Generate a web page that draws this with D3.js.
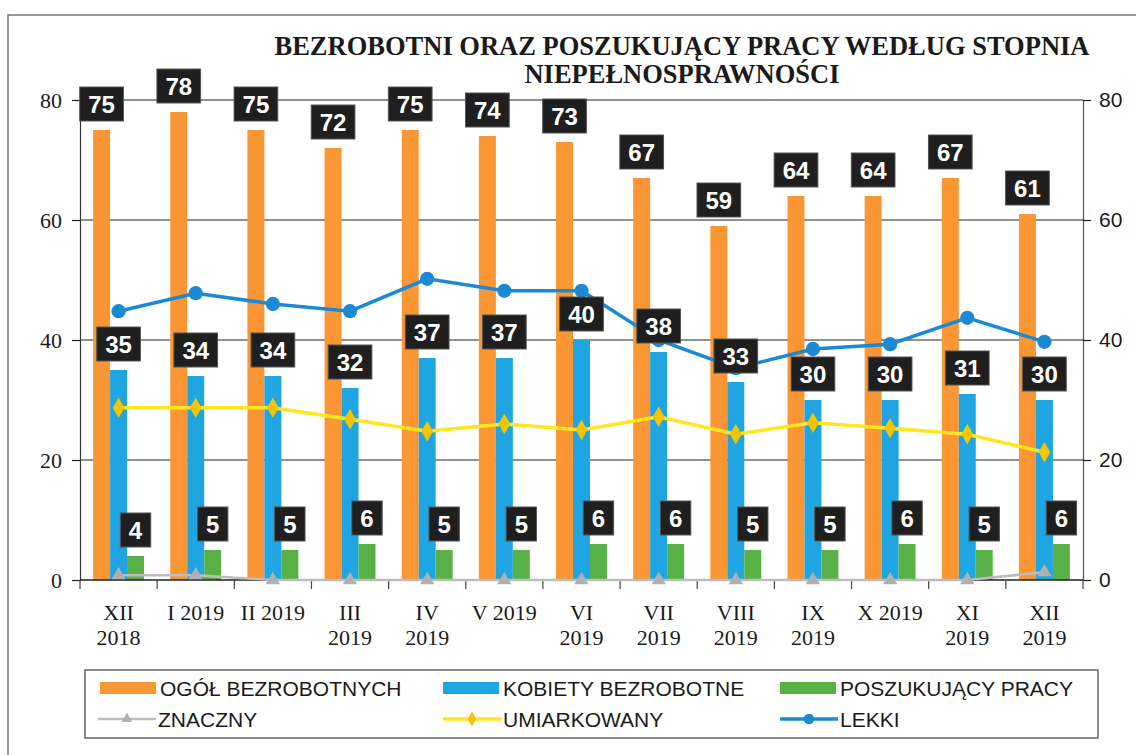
<!DOCTYPE html>
<html>
<head>
<meta charset="utf-8">
<script src="https://cdn.jsdelivr.net/npm/d3@7"></script>
<style>
  body { margin: 0; background: #fff; }
  svg { display: block; }
</style>
</head>
<body>
<div id="chart"></div>
<script>
// data
var months = ["XII 2018", "I 2019", "II 2019", "III 2019", "IV 2019", "V 2019", "VI 2019",
              "VII 2019", "VIII 2019", "IX 2019", "X 2019", "XI 2019", "XII 2019"];
var monthLines = [["XII", "2018"], ["I 2019"], ["II 2019"], ["III", "2019"], ["IV", "2019"], ["V 2019"],
                  ["VI", "2019"], ["VII", "2019"], ["VIII", "2019"], ["IX", "2019"], ["X 2019"],
                  ["XI", "2019"], ["XII", "2019"]];
var ogol = [75, 78, 75, 72, 75, 74, 73, 67, 59, 64, 64, 67, 61];
var kobiety = [35, 34, 34, 32, 37, 37, 40, 38, 33, 30, 30, 31, 30];
var poszukujacy = [4, 5, 5, 6, 5, 5, 6, 6, 5, 5, 6, 5, 6];
var znaczny = [0.8, 0.8, 0, 0, 0, 0, 0, 0, 0, 0, 0, 0, 1.3];
var umiarkowany = [28.7, 28.7, 28.7, 26.8, 24.8, 26.0, 25.0, 27.2, 24.3, 26.2, 25.3, 24.3, 21.3];
var lekki = [44.8, 47.8, 46.0, 44.8, 50.2, 48.2, 48.2, 40.0, 35.3, 38.5, 39.3, 43.7, 39.7];
var yTicks = [0, 20, 40, 60, 80];

var barSeries = [
  {name: "OGÓŁ BEZROBOTNYCH", values: ogol, color: "#fa9634"},
  {name: "KOBIETY BEZROBOTNE", values: kobiety, color: "#1fa6e2"},
  {name: "POSZUKUJĄCY PRACY", values: poszukujacy, color: "#58b146"}
];
var lineSeries = [
  {name: "ZNACZNY", values: znaczny, color: "#bdbdbd", marker: "#b0b0b0", symbol: d3.symbolTriangle, size: 90, width: 2.5},
  {name: "UMIARKOWANY", values: umiarkowany, color: "#ffe61e", marker: "#f3c400", symbol: d3.symbolDiamond, size: 120, width: 3.5},
  {name: "LEKKI", values: lekki, color: "#1c89d4", marker: "#1c89d4", symbol: d3.symbolCircle, size: 160, width: 3.5}
];

var width = 1136, height = 755;
var plotLeft = 80, plotRight = 1083, plotTop = 100, plotBottom = 580;

var svg = d3.select("#chart").append("svg")
  .attr("width", width)
  .attr("height", height);

// outer frame of the scanned chart
svg.append("path")
  .attr("d", "M8,755 V15 H1136")
  .attr("fill", "none")
  .attr("stroke", "#777")
  .attr("stroke-width", 1.5);

// title
var title = svg.append("text")
  .attr("x", 682)
  .attr("y", 55)
  .attr("text-anchor", "middle")
  .attr("font-family", "'Liberation Serif', 'Times New Roman', serif")
  .attr("font-weight", "bold")
  .attr("font-size", 26.5)
  .attr("fill", "#1a1a1a");
title.append("tspan").attr("x", 682).attr("dy", 0).text("BEZROBOTNI ORAZ POSZUKUJĄCY PRACY WEDŁUG STOPNIA");
title.append("tspan").attr("x", 682).attr("dy", 28).text("NIEPEŁNOSPRAWNOŚCI");

// scales
var x = d3.scaleBand().domain(months).range([plotLeft, plotRight]).padding(0);
var x1 = d3.scaleBand().domain(barSeries.map(function(s) { return s.name; }))
  .range([x.bandwidth() * 0.17, x.bandwidth() * 0.83]);
var y = d3.scaleLinear().domain([0, 80]).range([plotBottom, plotTop]);
var y2 = d3.scaleLinear().domain([0, 80]).range([plotBottom, plotTop]);

// gridlines
svg.append("g")
  .selectAll("line")
  .data(yTicks.filter(function(t) { return t > 0; }))
  .join("line")
  .attr("x1", plotLeft).attr("x2", plotRight)
  .attr("y1", function(d) { return y(d); })
  .attr("y2", function(d) { return y(d); })
  .attr("stroke", "#222")
  .attr("stroke-width", 1.2);

// left axis
var yAxisG = svg.append("g")
  .attr("transform", "translate(" + plotLeft + ",0)")
  .call(d3.axisLeft(y).tickValues(yTicks).tickSize(8).tickPadding(10));
yAxisG.select(".domain").attr("stroke", "#333").attr("stroke-width", 1.2);
yAxisG.selectAll(".tick line").attr("stroke", "#222").attr("stroke-width", 1.2);
yAxisG.selectAll("text")
  .attr("font-family", "'Liberation Serif', 'Times New Roman', serif")
  .attr("font-size", 22)
  .attr("fill", "#1a1a1a");

// right axis
var y2AxisG = svg.append("g")
  .attr("transform", "translate(" + plotRight + ",0)")
  .call(d3.axisRight(y2).tickValues(yTicks).tickSize(8).tickPadding(8));
y2AxisG.select(".domain").attr("stroke", "#555").attr("stroke-width", 1.2);
y2AxisG.selectAll(".tick line").attr("stroke", "#222").attr("stroke-width", 1.2);
y2AxisG.selectAll("text")
  .attr("font-family", "'Liberation Sans', Arial, sans-serif")
  .attr("font-size", 21)
  .attr("fill", "#1a1a1a");

// bars
barSeries.forEach(function(s) {
  svg.append("g")
    .selectAll("rect")
    .data(s.values)
    .join("rect")
    .attr("x", function(d, i) { return x(months[i]) + x1(s.name); })
    .attr("y", function(d) { return y(d); })
    .attr("width", x1.bandwidth())
    .attr("height", function(d) { return y(0) - y(d); })
    .attr("fill", s.color);
});

// x axis line and boundary ticks
svg.append("line")
  .attr("x1", plotLeft).attr("x2", plotRight)
  .attr("y1", y(0)).attr("y2", y(0))
  .attr("stroke", "#222").attr("stroke-width", 1.3);
var bounds = months.map(function(m) { return x(m); }).concat([x.range()[1]]);
svg.append("g")
  .selectAll("line")
  .data(bounds)
  .join("line")
  .attr("x1", function(d) { return d; }).attr("x2", function(d) { return d; })
  .attr("y1", y(0)).attr("y2", y(0) + 9)
  .attr("stroke", "#444").attr("stroke-width", 1.2);

// x labels
var xAxisG = svg.append("g")
  .attr("transform", "translate(0," + y(0) + ")")
  .call(d3.axisBottom(x).tickSize(0).tickFormat(""));
xAxisG.select(".domain").remove();
xAxisG.selectAll(".tick text").remove();
xAxisG.selectAll(".tick")
  .append("text")
  .attr("text-anchor", "middle")
  .attr("font-family", "'Liberation Serif', 'Times New Roman', serif")
  .attr("font-size", 22)
  .attr("fill", "#1a1a1a")
  .each(function(d, i) {
    var t = d3.select(this);
    monthLines[i].forEach(function(line, k) {
      t.append("tspan").attr("x", 0).attr("y", 40 + k * 25).text(line);
    });
  });

// lines
lineSeries.forEach(function(s) {
  var line = d3.line()
    .x(function(d, i) { return x(months[i]) + x.bandwidth() / 2; })
    .y(function(d) { return y2(d); });
  svg.append("path")
    .attr("d", line(s.values))
    .attr("fill", "none")
    .attr("stroke", s.color)
    .attr("stroke-width", s.width);
  svg.append("g")
    .selectAll("path")
    .data(s.values)
    .join("path")
    .attr("transform", function(d, i) {
      return "translate(" + (x(months[i]) + x.bandwidth() / 2) + "," + y2(d) + ")";
    })
    .attr("d", d3.symbol().type(s.symbol).size(s.size))
    .attr("fill", s.marker);
});

// data labels on bars
barSeries.forEach(function(s) {
  var g = svg.append("g");
  s.values.forEach(function(v, i) {
    var cx = x(months[i]) + x1(s.name) + x1.bandwidth() / 2;
    var lab = g.append("g");
    var box = lab.append("rect").attr("fill", "#1f1f1f").attr("stroke", "#555").attr("stroke-width", 1);
    var txt = lab.append("text")
      .attr("x", cx)
      .attr("y", y(v) - 17)
      .attr("text-anchor", "middle")
      .attr("font-family", "'Liberation Sans', Arial, sans-serif")
      .attr("font-weight", "bold")
      .attr("font-size", 24)
      .attr("fill", "#fff")
      .text(v);
    var w = txt.node().getComputedTextLength() + 17;
    box.attr("x", cx - w / 2)
      .attr("y", y(v) - 9 - 34)
      .attr("width", w)
      .attr("height", 34);
  });
});

// legend
svg.append("rect")
  .attr("x", 85).attr("y", 670)
  .attr("width", 1013).attr("height", 68)
  .attr("fill", "#fff")
  .attr("stroke", "#666")
  .attr("stroke-width", 1.5);

var legendPos = [[100, 688], [443, 688], [780, 688], [98, 719], [443, 719], [780, 719]];
var legendItems = barSeries.map(function(s) { return {s: s, bar: true}; })
  .concat(lineSeries.map(function(s) { return {s: s, bar: false}; }));
legendItems.forEach(function(item, i) {
  var p = legendPos[i];
  var g = svg.append("g").attr("transform", "translate(" + p[0] + "," + p[1] + ")");
  if (item.bar) {
    g.append("rect").attr("x", 0).attr("y", -6).attr("width", 56).attr("height", 12).attr("fill", item.s.color);
  } else {
    g.append("line").attr("x1", 0).attr("x2", 58).attr("y1", 0).attr("y2", 0)
      .attr("stroke", item.s.color).attr("stroke-width", item.s.width);
    g.append("path").attr("transform", "translate(29,0)")
      .attr("d", d3.symbol().type(item.s.symbol).size(item.s.size * 0.55))
      .attr("fill", item.s.marker);
  }
  g.append("text")
    .attr("x", 60)
    .attr("y", 8)
    .attr("font-family", "'Liberation Sans', Arial, sans-serif")
    .attr("font-size", 21)
    .attr("fill", "#1a1a1a")
    .text(item.s.name);
});
</script>
</body>
</html>
